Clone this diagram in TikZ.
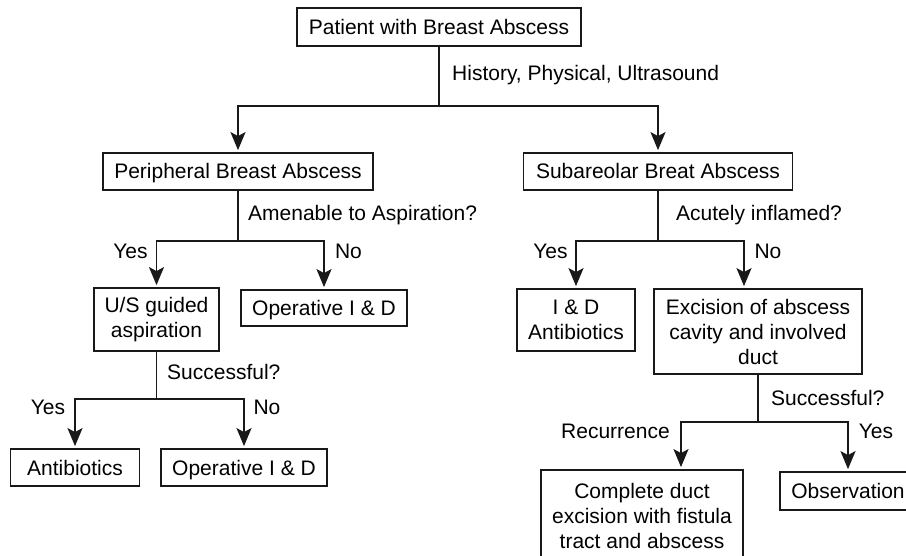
\documentclass[tikz,border=0pt]{standalone}
\usepackage{fontspec}
\setmainfont{Liberation Sans}
\usetikzlibrary{arrows.meta}
\begin{document}
\begin{tikzpicture}[x=1pt,y=-1pt,
  font=\fontsize{21}{25}\selectfont,
  box/.style={draw=black!90, line width=1.8pt, align=center, inner sep=0pt},
  one/.style={box, text height=15pt, text depth=0pt},
  lbl/.style={inner sep=0pt, text height=15pt, text depth=0pt},
  conn/.style={line width=1.8pt, draw=black!90},
  arr/.style={conn, -{Stealth[length=18pt,width=15pt,inset=4pt]}, shorten >=2pt}]
\useasboundingbox (0,0) rectangle (906,556);
\clip (0,0) rectangle (906,556);
\fill[white] (0,0) rectangle (906,556);
% boxes
\node[one, minimum width=284pt, minimum height=38pt] (top) at (439,27) {Patient with Breast Abscess};
\node[one, minimum width=270pt, minimum height=37pt] (per) at (238,171.5) {Peripheral Breast Abscess};
\node[one, minimum width=269pt, minimum height=37pt] (sub) at (658,171.5) {Subareolar Breat Abscess};
\node[box, minimum width=125pt, minimum height=63pt] (us) at (156.5,319.5) {U/S guided\\aspiration};
\node[one, minimum width=166pt, minimum height=36pt] (op1) at (324,308) {Operative I \& D};
\node[one, minimum width=129pt, minimum height=37pt] (abx) at (75,467.5) {Antibiotics};
\node[one, minimum width=166pt, minimum height=37pt] (op2) at (244,467.5) {Operative I \& D};
\node[box, minimum width=118pt, minimum height=62pt] (ida) at (576,320) {I \& D\\Antibiotics};
\node[box, minimum width=208pt, minimum height=85pt] (exc) at (758,331.5) {Excision of abscess\\cavity and involved\\duct};
\node[box, minimum width=202pt, minimum height=92pt] (comp) at (642,516) {Complete duct\\excision with fistula\\tract and abscess};
\node[one, minimum width=136pt, minimum height=38pt] (obs) at (848,491) {Observation};
% junctions
\coordinate (j1) at (439,106);
\coordinate (j2) at (238,241);
\coordinate (j3) at (156.5,399);
\coordinate (j4) at (658,241);
\coordinate (j5) at (758,422);
\coordinate (excin) at ([xshift=-14pt]exc.north);
\coordinate (compin) at ([xshift=39pt]comp.north);
% connectors
\draw[conn] (top.south) -- (j1);
\draw[arr] (j1) -| (per.north);
\draw[arr] (j1) -| (sub.north);
\draw[conn] (per.south) -- (j2);
\draw[arr] (j2) -| (us.north);
\draw[arr] (j2) -| (op1.north);
\draw[conn] (us.south) -- (j3);
\draw[arr] (j3) -| (abx.north);
\draw[arr] (j3) -| (op2.north);
\draw[conn] (sub.south) -- (j4);
\draw[arr] (j4) -| (ida.north);
\draw[arr] (j4) -| (excin);
\draw[conn] (exc.south) -- (j5);
\draw[arr] (j5) -| (compin);
\draw[arr] (j5) -| (obs.north);
% labels
\node[lbl, anchor=west] (l1) at (452,73) {History, Physical, Ultrasound};
\node[lbl, anchor=west] (l2) at (248,213) {Amenable to Aspiration?};
\node[lbl, anchor=west] (l3) at (676,213) {Acutely inflamed?};
\node[lbl] (y1) at (130.5,251) {Yes};
\node[lbl] (n1) at (348.5,251) {No};
\node[lbl, anchor=west] (l4) at (167,372) {Successful?};
\node[lbl] (y2) at (48,407) {Yes};
\node[lbl] (n2) at (267,407) {No};
\node[lbl] (y3) at (550.5,251) {Yes};
\node[lbl] (n3) at (768,251) {No};
\node[lbl, anchor=west] (l5) at (771,398) {Successful?};
\node[lbl] (rec) at (615.5,431) {Recurrence};
\node[lbl] (y4) at (876,431) {Yes};
\end{tikzpicture}
\end{document}
